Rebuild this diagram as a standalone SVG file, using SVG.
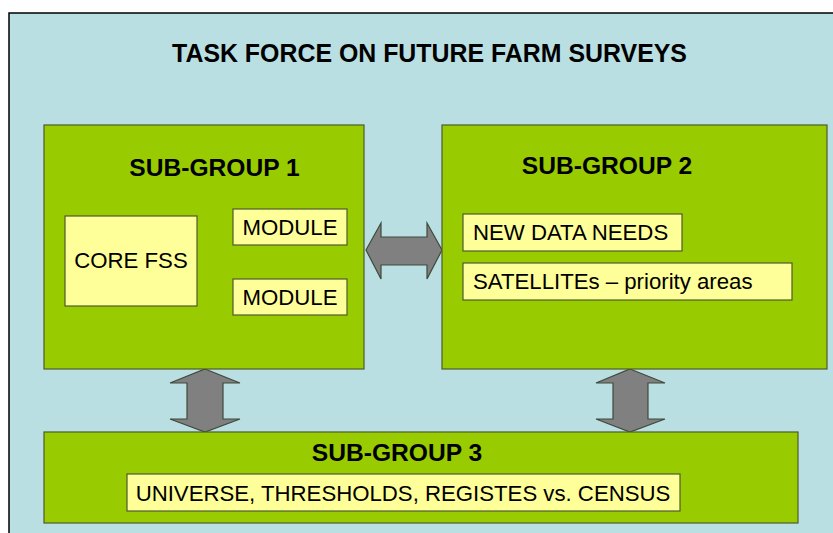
<svg xmlns="http://www.w3.org/2000/svg" width="833" height="533" viewBox="0 0 833 533">
<style>
.panel{fill:#B9DFE3;stroke:#000;stroke-width:1.5}
.grp{fill:#99CC00;stroke:#4D5A2E;stroke-width:1.2}
.item{fill:#FFFF99;stroke:#4D5A2E;stroke-width:1.2}
.arrow{fill:#808080;stroke:#3F4A3A;stroke-width:1.2;stroke-linejoin:miter}
.title{font-family:"Liberation Sans",Arial,sans-serif;font-weight:bold;font-size:24.9px;fill:#000}
.h{font-family:"Liberation Sans",Arial,sans-serif;font-weight:bold;font-size:24.6px;fill:#000}
.t{font-family:"Liberation Sans",Arial,sans-serif;font-size:22.2px;fill:#000}
</style>
<rect x="0" y="0" width="833" height="533" fill="#FFFFFF"/>
<rect class="panel" x="9" y="13" width="840" height="540"/>
<text class="title" x="429.5" y="62" text-anchor="middle">TASK FORCE ON FUTURE FARM SURVEYS</text>
<g id="connectors">
<polygon class="arrow" points="366,250 381,223 381,237 427,237 427,223 442,250 427,279 427,265 381,265 381,279"/>
<polygon class="arrow" points="205,369 240,383 223,383 223,419 240,419 205,432 170,419 187,419 187,383 170,383"/>
<polygon class="arrow" points="630,369 665,383 648,383 648,419 665,419 630,432 596,419 613,419 613,383 596,383"/>
</g>
<g id="subgroup1">
<rect class="grp" x="44" y="125" width="320" height="244"/>
<text class="h" x="214.5" y="176" text-anchor="middle">SUB-GROUP 1</text>
</g>
<g id="corefss">
<rect class="item" x="65" y="216" width="132" height="90"/>
<text class="t" x="131" y="268" text-anchor="middle">CORE FSS</text>
</g>
<g id="module1">
<rect class="item" x="233" y="209" width="114" height="36"/>
<text class="t" x="290" y="235" text-anchor="middle">MODULE</text>
</g>
<g id="module2">
<rect class="item" x="233" y="279" width="114" height="36"/>
<text class="t" x="290" y="305" text-anchor="middle">MODULE</text>
</g>
<g id="subgroup2">
<rect class="grp" x="442" y="125" width="385" height="244"/>
<text class="h" x="607" y="174" text-anchor="middle">SUB-GROUP 2</text>
</g>
<g id="newdata">
<rect class="item" x="463" y="214" width="219" height="37"/>
<text class="t" x="473" y="240">NEW DATA NEEDS</text>
</g>
<g id="satellites">
<rect class="item" x="463" y="263" width="329" height="37"/>
<text class="t" x="473" y="289">SATELLITEs – priority areas</text>
</g>
<g id="subgroup3">
<rect class="grp" x="44" y="432" width="754" height="91"/>
<text class="h" x="397" y="461" text-anchor="middle">SUB-GROUP 3</text>
</g>
<g id="universe">
<rect class="item" x="127" y="474" width="553" height="37"/>
<text class="t" x="403" y="501" text-anchor="middle">UNIVERSE, THRESHOLDS, REGISTES vs. CENSUS</text>
</g>
</svg>
